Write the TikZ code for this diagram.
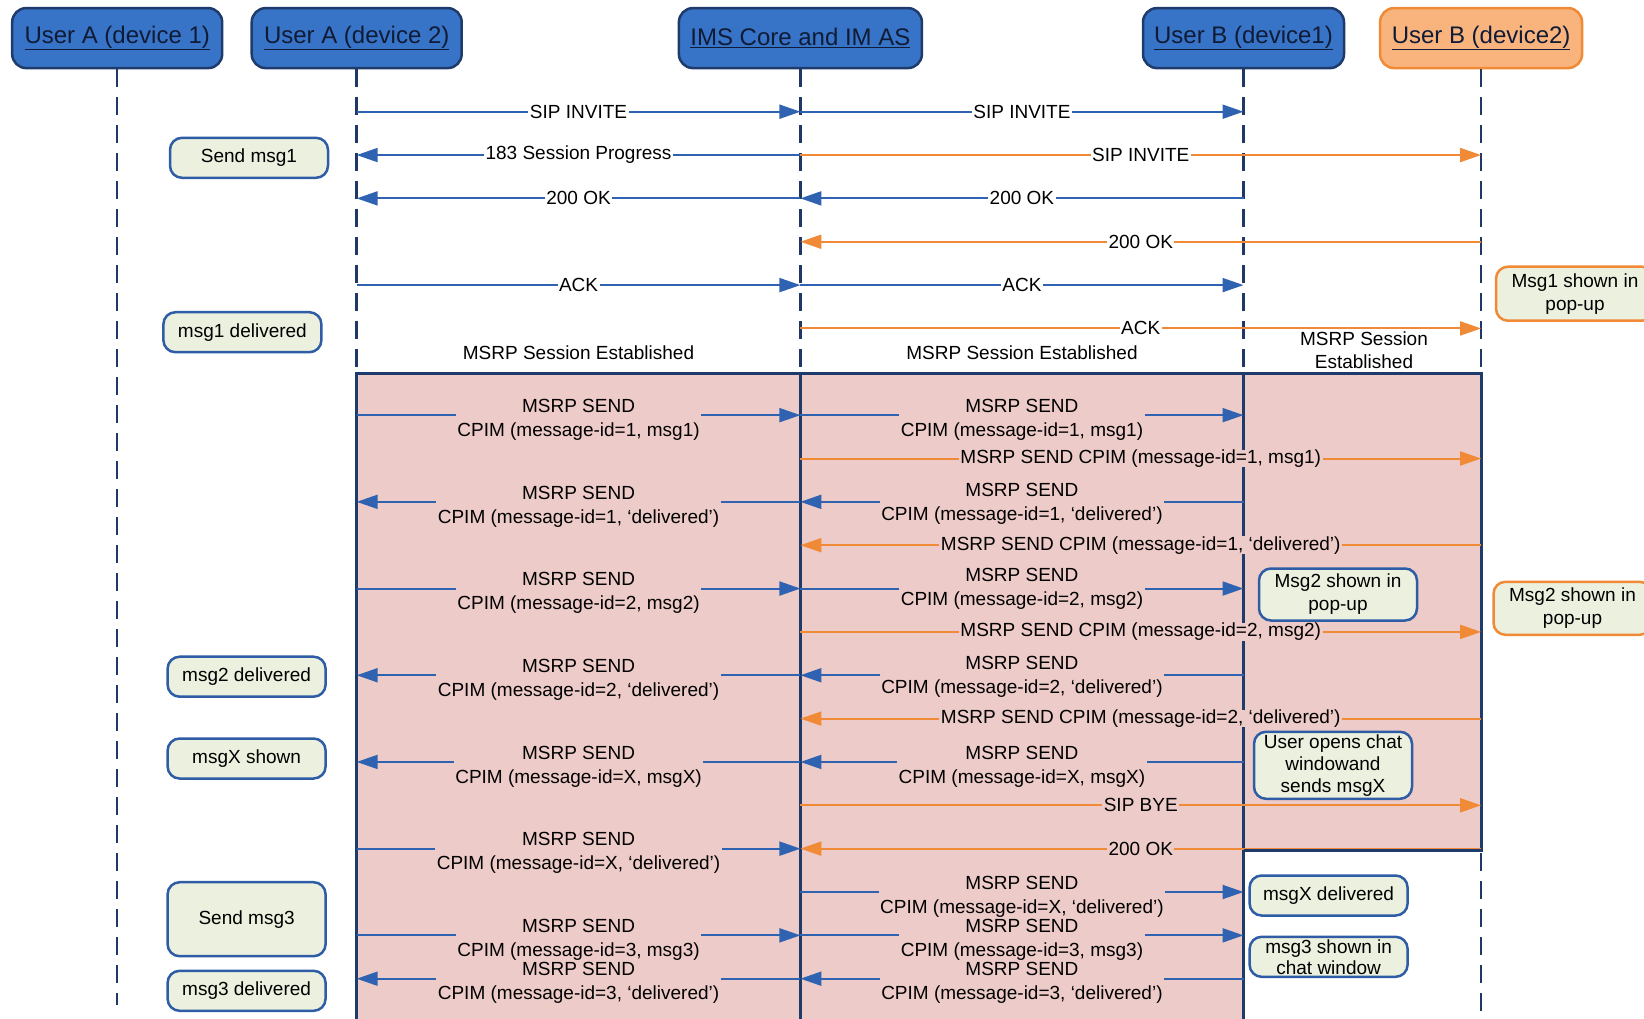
\documentclass[tikz,border=0pt]{standalone}
\usepackage{fontspec}
\setmainfont{Liberation Sans}
\usetikzlibrary{arrows.meta}

\definecolor{actorfill}{HTML}{3774C7}
\definecolor{actorline}{HTML}{1F3B6B}
\definecolor{actortext}{HTML}{101B36}
\definecolor{orangefill}{HTML}{F9B47D}
\definecolor{orangeline}{HTML}{F08A36}
\definecolor{msgblue}{HTML}{2F62B1}
\definecolor{lifecol}{HTML}{1F3866}
\definecolor{sessionpink}{HTML}{EDCBC8}
\definecolor{notefill}{HTML}{EBF1DE}
\definecolor{noteline}{HTML}{2E5CA5}

\tikzset{
  actor/.style={draw=actorline, line width=2.5pt, fill=actorfill, rounded corners=14pt,
    minimum height=60pt, text=actortext, font=\fontsize{24}{28}\selectfont},
  actorB/.style={actor, draw=orangeline, fill=orangefill},
  life/.style={draw=lifecol, line width=2.5pt, dash pattern=on 18pt off 10pt},
  sipmsg/.style={->, draw=msgblue, line width=2pt},
  sipmsgo/.style={->, draw=orangeline, line width=2pt},
  msglabel/.style={fill=white, inner xsep=1.5pt, inner ysep=0pt, text=black,
    font=\fontsize{19}{24}\selectfont},
  msgpink/.style={msglabel, fill=sessionpink},
  msrplabel/.style={msgpink, align=center, yshift=-4.5pt},
  plaintext/.style={inner sep=0pt, align=center, font=\fontsize{19}{23.5}\selectfont},
  sessionbox/.style={fill=sessionpink, draw=actorline, line width=3pt},
  note/.style={draw=noteline, fill=notefill, line width=2.5pt, rounded corners=12pt,
    minimum width=158pt, minimum height=40pt, align=center, inner sep=1pt,
    font=\fontsize{19}{23}\selectfont},
  noteo/.style={note, draw=orangeline}
}

\begin{document}
\begin{tikzpicture}[x=1pt, y=-1pt, >={Triangle[length=21pt,width=14pt]}]
\useasboundingbox (0,0) rectangle (1644,1019);
\clip (0,0) rectangle (1644,1019);

\node[actor, minimum width=210pt] (a1) at (117.2,38.1) {\underline{User A (device 1)}};
\node[actor, minimum width=210pt] (a2) at (356.7,38.1) {\underline{User A (device 2)}};
\node[actor, minimum width=243pt] (ims) at (800.4,38.1) {\underline{IMS Core and IM AS}};
\node[actor, minimum width=201pt] (b1) at (1243.5,38.1) {\underline{User B (device1)}};
\node[actorB, minimum width=202pt] (b2) at (1481.1,38.1) {\underline{User B (device2)}};

\foreach \k in {0,...,20} \coordinate (r\k) at (0,111.7+43.35*\k);
\coordinate (top) at (0,373);
\coordinate (bot) at (0,1030);
\coordinate (b2end) at (0,850);
\coordinate (a1end) at (0,1005);

\draw[life] (a1.south) -- (a1 |- a1end);
\foreach \n in {a2,ims,b1,b2} \draw[life] (\n.south) -- (\n |- bot);

\draw[sessionbox] (a2 |- top) rectangle (ims |- bot);
\draw[sessionbox] (ims |- top) rectangle (b1 |- bot);
\draw[sessionbox] (b1 |- top) rectangle (b2 |- b2end);

\node[plaintext] (est1) at (578.5,353) {MSRP Session Established};
\node[plaintext] (est2) at (1022,353) {MSRP Session Established};
\node[plaintext] (est3) at (1364,350) {MSRP Session\\Established};

\draw[sipmsg] (a2 |- r0) -- node[msglabel] {SIP INVITE} (ims |- r0);
\draw[sipmsg] (ims |- r0) -- node[msglabel] {SIP INVITE} (b1 |- r0);
\draw[sipmsg] (ims |- r1) -- node[msglabel] {183 Session Progress} (a2 |- r1);
\draw[sipmsgo] (ims |- r1) -- node[msglabel] {SIP INVITE} (b2 |- r1);
\draw[sipmsg] (b1 |- r2) -- node[msglabel] {200 OK} (ims |- r2);
\draw[sipmsg] (ims |- r2) -- node[msglabel] {200 OK} (a2 |- r2);
\draw[sipmsgo] (b2 |- r3) -- node[msglabel] {200 OK} (ims |- r3);
\draw[sipmsg] (a2 |- r4) -- node[msglabel] {ACK} (ims |- r4);
\draw[sipmsg] (ims |- r4) -- node[msglabel] {ACK} (b1 |- r4);
\draw[sipmsgo] (ims |- r5) -- node[msglabel] {ACK} (b2 |- r5);

\draw[sipmsg] (a2 |- r7) -- node[msrplabel] {MSRP SEND\\CPIM (message-id=1, msg1)} (ims |- r7);
\draw[sipmsg] (ims |- r7) -- node[msrplabel] {MSRP SEND\\CPIM (message-id=1, msg1)} (b1 |- r7);
\draw[sipmsgo] (ims |- r8) -- node[msgpink] {MSRP SEND CPIM (message-id=1, msg1)} (b2 |- r8);
\draw[sipmsg] (ims |- r9) -- node[msrplabel] {MSRP SEND\\CPIM (message-id=1, ‘delivered’)} (a2 |- r9);
\draw[sipmsg] (b1 |- r9) -- node[msrplabel, yshift=3pt] {MSRP SEND\\CPIM (message-id=1, ‘delivered’)} (ims |- r9);
\draw[sipmsgo] (b2 |- r10) -- node[msgpink] {MSRP SEND CPIM (message-id=1, ‘delivered’)} (ims |- r10);
\draw[sipmsg] (a2 |- r11) -- node[msrplabel] {MSRP SEND\\CPIM (message-id=2, msg2)} (ims |- r11);
\draw[sipmsg] (ims |- r11) -- node[msrplabel, yshift=4.5pt] {MSRP SEND\\CPIM (message-id=2, msg2)} (b1 |- r11);
\draw[sipmsgo] (ims |- r12) -- node[msgpink] {MSRP SEND CPIM (message-id=2, msg2)} (b2 |- r12);
\draw[sipmsg] (ims |- r13) -- node[msrplabel] {MSRP SEND\\CPIM (message-id=2, ‘delivered’)} (a2 |- r13);
\draw[sipmsg] (b1 |- r13) -- node[msrplabel, yshift=2.5pt] {MSRP SEND\\CPIM (message-id=2, ‘delivered’)} (ims |- r13);
\draw[sipmsgo] (b2 |- r14) -- node[msgpink] {MSRP SEND CPIM (message-id=2, ‘delivered’)} (ims |- r14);
\draw[sipmsg] (ims |- r15) -- node[msrplabel] {MSRP SEND\\CPIM (message-id=X, msgX)} (a2 |- r15);
\draw[sipmsg] (b1 |- r15) -- node[msrplabel] {MSRP SEND\\CPIM (message-id=X, msgX)} (ims |- r15);
\draw[sipmsgo] (ims |- r16) -- node[msgpink] {SIP BYE} (b2 |- r16);
\draw[sipmsg] (a2 |- r17) -- node[msrplabel] {MSRP SEND\\CPIM (message-id=X, ‘delivered’)} (ims |- r17);
\draw[sipmsgo] (b2 |- r17) -- node[msgpink] {200 OK} (ims |- r17);
\draw[actorline, line width=3pt] (b1 |- b2end) -- (b2 |- b2end);
\draw[sipmsg] (ims |- r18) -- node[msrplabel] {MSRP SEND\\CPIM (message-id=X, ‘delivered’)} (b1 |- r18);
\draw[sipmsg] (a2 |- r19) -- node[msrplabel] {MSRP SEND\\CPIM (message-id=3, msg3)} (ims |- r19);
\draw[sipmsg] (ims |- r19) -- node[msrplabel] {MSRP SEND\\CPIM (message-id=3, msg3)} (b1 |- r19);
\draw[sipmsg] (ims |- r20) -- node[msrplabel] {MSRP SEND\\CPIM (message-id=3, ‘delivered’)} (a2 |- r20);
\draw[sipmsg] (b1 |- r20) -- node[msrplabel] {MSRP SEND\\CPIM (message-id=3, ‘delivered’)} (ims |- r20);

\node[note] (n1) at (249,157.8) {Send msg1};
\node[note] (n2) at (242.4,332.2) {msg1 delivered};
\node[note] (n3) at (246.6,676.7) {msg2 delivered};
\node[note] (n4) at (246.6,758.5) {msgX shown};
\node[note, minimum height=74pt] (n5) at (246.6,919.2) {Send msg3};
\node[note] (n6) at (246.6,990.8) {msg3 delivered};
\node[noteo, minimum height=54pt] (n7) at (1575,293.7) {Msg1 shown in\\pop-up};
\node[noteo, minimum height=53pt] (n8) at (1572.5,608.3) {Msg2 shown in\\pop-up};
\node[note, minimum height=52pt] (n9) at (1338,594.5) {Msg2 shown in\\pop-up};
\node[note, minimum height=67pt, font=\fontsize{19}{22}\selectfont] (n10) at (1333,765.3) {User opens chat\\windowand\\sends msgX};
\node[note] (n11) at (1328.6,895.5) {msgX delivered};
\node[note, font=\fontsize{19}{21}\selectfont] (n12) at (1328.6,956.8) {msg3 shown in\\chat window};
\end{tikzpicture}
\end{document}
